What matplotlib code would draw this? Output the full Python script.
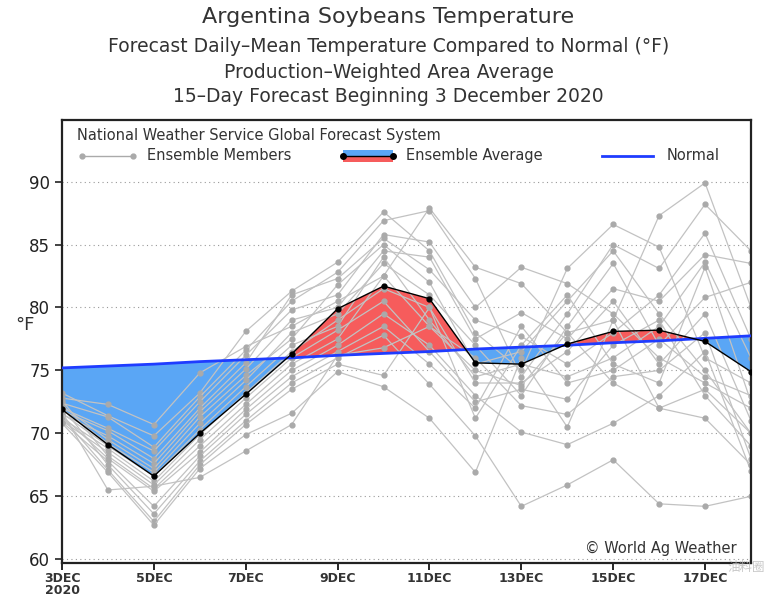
import matplotlib
matplotlib.use("Agg")
import matplotlib.pyplot as plt
import numpy as np

# days from 3 Dec 2020 (index 0) to 18 Dec (index 15)
days = list(range(16))
tick_days = [0, 2, 4, 6, 8, 10, 12, 14]
tick_labels = ["3DEC\n2020", "5DEC", "7DEC", "9DEC", "11DEC", "13DEC", "15DEC", "17DEC"]

ens_avg = [71.9, 69.1, 66.6, 70.0, 73.1, 76.3, 79.9, 81.7, 80.7, 75.6, 75.5, 77.1, 78.1, 78.2, 77.3, 74.9]
normal = [75.2, 75.35, 75.5, 75.7, 75.85, 76.0, 76.2, 76.35, 76.5, 76.7, 76.85, 77.0, 77.2, 77.35, 77.55, 77.75]

# ensemble members
m01 = [72.8, 72.3, 70.7, 74.8, 76.9, 78.5, 80.5, 82.5, 87.9, 83.2, 81.9, 78.0, 79.0, 87.3, 89.9, 80.0]
m02 = [73.2, 71.4, 69.8, 73.2, 78.1, 81.3, 83.6, 87.6, 84.5, 78.0, 75.0, 83.1, 86.6, 84.8, 76.0, 74.0]
m03 = [72.4, 71.3, 68.9, 72.9, 76.6, 80.5, 82.8, 86.9, 87.7, 82.3, 74.5, 79.5, 85.0, 83.1, 88.2, 84.5]
m04 = [72.0, 70.4, 68.6, 72.5, 76.2, 79.8, 81.0, 85.8, 85.2, 80.0, 83.2, 81.9, 79.5, 76.0, 74.0, 72.0]
m05 = [71.8, 70.2, 68.0, 72.0, 75.6, 81.0, 82.3, 85.5, 83.0, 79.0, 77.7, 75.5, 78.0, 81.0, 85.9, 77.5]
m06 = [71.5, 69.8, 67.6, 71.7, 75.1, 79.0, 80.0, 84.5, 84.0, 77.5, 79.6, 77.5, 81.5, 80.5, 84.2, 83.5]
m07 = [72.2, 69.5, 67.2, 71.3, 74.6, 77.5, 81.8, 85.0, 82.0, 75.5, 76.5, 80.5, 84.5, 79.5, 75.0, 70.0]
m08 = [71.9, 69.2, 66.9, 70.8, 74.2, 78.0, 79.5, 83.5, 81.0, 77.0, 73.0, 78.5, 83.5, 77.0, 80.8, 82.0]
m09 = [71.6, 69.0, 66.6, 70.3, 73.7, 77.0, 78.5, 84.0, 79.0, 74.5, 75.5, 74.5, 76.0, 78.5, 83.6, 76.0]
m10 = [71.2, 68.8, 66.2, 69.9, 73.2, 76.5, 79.0, 81.5, 80.0, 74.0, 74.0, 76.5, 80.5, 75.5, 79.5, 71.0]
m11 = [71.0, 68.5, 65.9, 69.5, 72.8, 76.0, 78.2, 80.5, 76.5, 72.5, 73.5, 72.7, 77.0, 79.0, 73.0, 69.0]
m12 = [72.6, 68.2, 65.6, 69.0, 72.3, 75.5, 77.5, 82.5, 78.5, 76.0, 72.2, 71.5, 74.5, 75.0, 78.0, 68.0]
m13 = [71.4, 68.0, 65.4, 68.5, 71.9, 75.0, 77.0, 79.5, 77.0, 73.0, 70.1, 69.1, 70.8, 73.0, 76.5, 67.0]
m14 = [70.9, 67.8, 64.2, 68.2, 71.5, 74.5, 76.5, 78.5, 75.5, 72.0, 78.5, 74.0, 75.0, 77.5, 74.5, 73.0]
m15 = [72.1, 67.5, 63.6, 67.8, 71.0, 74.0, 76.0, 77.8, 73.9, 69.8, 64.2, 65.9, 67.9, 64.4, 64.2, 65.0]
m16 = [71.3, 67.1, 63.0, 67.5, 70.7, 73.5, 75.5, 74.6, 80.0, 71.2, 77.0, 81.0, 75.5, 74.0, 83.2, 72.5]
m17 = [70.8, 66.9, 62.7, 67.2, 69.9, 71.6, 74.9, 73.7, 71.2, 66.9, 76.0, 70.5, 79.0, 72.0, 73.5, 70.0]
m18 = [71.7, 65.5, 65.8, 66.5, 68.6, 70.7, 76.2, 76.8, 78.5, 75.0, 73.8, 78.0, 74.0, 72.0, 71.2, 67.5]
members = [m01, m02, m03, m04, m05, m06, m07, m08, m09, m10, m11, m12, m13, m14, m15, m16, m17, m18]

fig = plt.figure(figsize=(7.77, 5.96), dpi=100)
ax = fig.add_axes([0.0798, 0.0554, 0.8867, 0.7433])

x = np.array(days)
avg = np.array(ens_avg)
nrm = np.array(normal)
red = "#f65c5c"
blue = "#5aa6f5"
ax.fill_between(x, avg, nrm, where=avg >= nrm, interpolate=True, color=red, lw=0, zorder=1)
ax.fill_between(x, avg, nrm, where=avg <= nrm, interpolate=True, color=blue, lw=0, zorder=1)

for m in members:
    ax.plot(days, m, color="#c2c2c2", lw=0.9, marker="o", ms=3.5, mfc="#aaaaaa", mec="#aaaaaa", zorder=2)

ax.plot(days, normal, color="#1f3cff", lw=2, zorder=3)
ax.plot(days, ens_avg, color="black", lw=1.0, marker="o", ms=3.5, zorder=4)

ax.set_xlim(0, 15)
ax.set_ylim(59.7, 94.9)
ax.set_yticks([60, 65, 70, 75, 80, 85, 90])
ax.set_xticks(tick_days)
ax.set_xticklabels(tick_labels, fontsize=9, fontweight="bold", color="#333333", linespacing=0.85)
ax.tick_params(axis="y", labelsize=12, length=5, width=1.2, colors="#222222")
ax.tick_params(axis="x", length=5, width=1.2, pad=1.5)
for y in [60, 65, 70, 75, 80, 85, 90]:
    ax.axhline(y, color="#999999", lw=0.8, ls=(0, (1, 3)), zorder=0.5)
for s in ax.spines.values():
    s.set_linewidth(1.6)
    s.set_color("#222222")

fig.text(15 / 777, 1 - 325 / 596, "°F", fontsize=13, ha="left", va="center", color="#333333")

# legend drawn inside the axes
tc = "#333333"
def fx(px):
    return (px - 62) / (751 - 62)
def fy(py):
    return (563 - py) / (563 - 120)
ax.text(fx(77), fy(136), "National Weather Service Global Forecast System", transform=ax.transAxes,
        fontsize=10.5, color=tc, va="center", ha="left")
ax.plot([fx(82), fx(133)], [fy(156)] * 2, transform=ax.transAxes, color="#aaaaaa", lw=1,
        marker="o", ms=3.5, clip_on=False)
ax.text(fx(147), fy(156), "Ensemble Members", transform=ax.transAxes, fontsize=10.5, color=tc, va="center")
ax.fill_between([fx(343), fx(393)], fy(156), fy(150), transform=ax.transAxes, color=blue, lw=0)
ax.fill_between([fx(343), fx(393)], fy(162), fy(156), transform=ax.transAxes, color=red, lw=0)
ax.plot([fx(343), fx(393)], [fy(156)] * 2, transform=ax.transAxes, color="black", lw=1,
        marker="o", ms=4)
ax.text(fx(406), fy(156), "Ensemble Average", transform=ax.transAxes, fontsize=10.5, color=tc, va="center")
ax.plot([fx(602), fx(653)], [fy(156)] * 2, transform=ax.transAxes, color="#1f3cff", lw=2)
ax.text(fx(667), fy(156), "Normal", transform=ax.transAxes, fontsize=10.5, color=tc, va="center")

ax.text(fx(737), fy(549), "© World Ag Weather", transform=ax.transAxes, fontsize=10.5, color=tc,
        ha="right", va="center")

# wechat watermark
fig.text(727 / 777, 1 - 568 / 596, "油料圈", ha="left", va="center", fontsize=9, color="#bbbbbb",
         alpha=0.8, family=["Noto Sans CJK SC", "DejaVu Sans"])

# titles
fig.text(0.5, 1 - 17 / 596, "Argentina Soybeans Temperature", ha="center", va="center", fontsize=16, color=tc)
fig.text(0.5, 1 - 47 / 596, "Forecast Daily\u2013Mean Temperature Compared to Normal (°F)", ha="center",
         va="center", fontsize=13.5, color=tc)
fig.text(0.5, 1 - 72 / 596, "Production\u2013Weighted Area Average", ha="center", va="center",
         fontsize=13.5, color=tc)
fig.text(0.5, 1 - 97 / 596, "15\u2013Day Forecast Beginning 3 December 2020", ha="center", va="center",
         fontsize=13.5, color=tc)

fig.savefig("out.png", dpi=100)
